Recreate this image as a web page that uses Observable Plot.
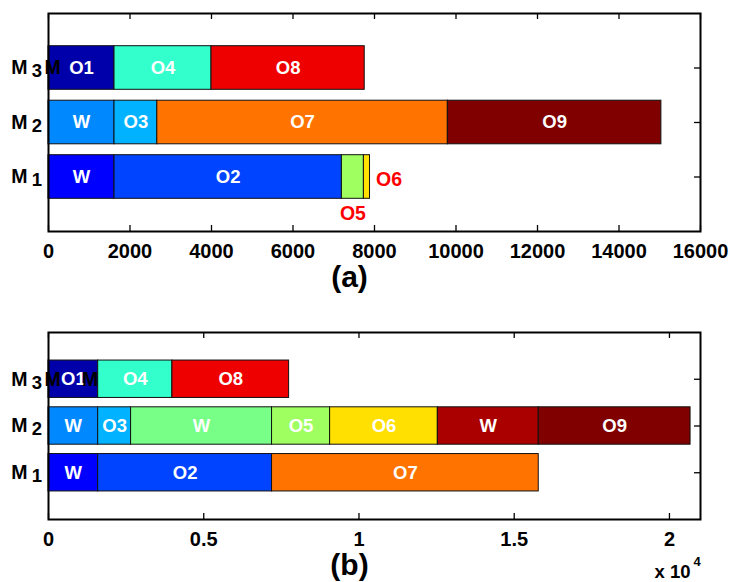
<!DOCTYPE html>
<html><head><meta charset="utf-8">
<script src="https://cdn.jsdelivr.net/npm/d3@7"></script>
<script src="https://cdn.jsdelivr.net/npm/@observablehq/plot@0.6"></script>
<style>
body{margin:0;background:#fff;}
#chart{width:730px;height:582px;background:#fff;}
#chart svg{display:block;}
</style></head><body><div id="chart"></div>
<script>
// ---------- data ----------
const machines = ["M3", "M2", "M1"];
const machineDigits = ["3", "2", "1"];

// Panel (a)
const aMachine = ["M1","M1","M1","M1","M2","M2","M2","M2","M3","M3","M3"];
const aOp      = ["W","O2","O5","O6","W","O3","O7","O9","O1","O4","O8"];
const aStart   = [0,1620,7200,7740,0,1620,2670,9800,0,1620,4000];
const aEnd     = [1620,7200,7740,7890,1620,2670,9800,15040,1620,4000,7760];
const aOutside = ["O5","O6"];             // labels drawn outside (red)
const aXTicks  = [0,2000,4000,6000,8000,10000,12000,14000,16000];
const aXTickLabels = ["0","2000","4000","6000","8000","10000","12000","14000","16000"];

// Panel (b)
const bMachine = ["M1","M1","M1","M2","M2","M2","M2","M2","M2","M2","M3","M3","M3"];
const bOp      = ["W","O2","O7","W","O3","W","O5","O6","W","O9","O1","O4","O8"];
const bStart   = [0,1600,7200,0,1600,2660,7200,9070,12540,15790,0,1600,3990];
const bEnd     = [1600,7200,15790,1600,2660,7200,9070,12540,15790,20680,1600,3990,7750];
const bXTicks  = [0,5000,10000,15000,20000];
const bXTickLabels = ["0","0.5","1","1.5","2"];

// ---------- styles ----------
const aFill = ["#0000FF","#0044FF","#A0FF60","#FFE000","#0088FF","#00B2FF","#FF7300","#800000","#0000AA","#33FFCC","#EE0000"];
const bFill = ["#0000FF","#0044FF","#FF7300","#0088FF","#00B2FF","#77FF88","#A0FF60","#FFE000","#AA0000","#800000","#0000AA","#33FFCC","#EE0000"];
const FONT = "'Liberation Sans', Arial, Helvetica, sans-serif";

function rowsOf(mach, op, start, end, fill) {
  return mach.map((m, i) => ({machine: m, op: op[i], start: start[i], end: end[i], fill: fill[i]}));
}

function panel({rows, xMax, xTicks, xTickLabels, height, marginTop, marginBottom, outside, extraStart, extraEnd, caption, captionDy, expo}) {
  const W = 730, marginLeft = 48, marginRight = 30;
  const innerW = W - marginLeft - marginRight;
  const innerH = height - marginTop - marginBottom;
  const inside = rows.filter(d => !outside.includes(d.op));
  const out = rows.filter(d => outside.includes(d.op));
  const marks = [
    // inward y ticks (right and left)
    Plot.tickY(machines, {y: d => d, insetLeft: innerW - 6, stroke: "black", strokeWidth: 1.3}),
    Plot.tickY(machines, {y: d => d, insetRight: innerW - 6, stroke: "black", strokeWidth: 1.3}),
    // bars
    Plot.barX(rows, {x1: "start", x2: "end", y: "machine", fill: "fill", stroke: "#111", strokeWidth: 1}),
    // inside labels
    Plot.text(inside, {x: d => (d.start + d.end) / 2, y: "machine", text: "op", fill: "white", fontSize: 18.5, fontWeight: "bold"}),
    // machine labels
    Plot.text(machines, {y: d => d, frameAnchor: "left", lineAnchor: "middle", text: () => "M", textAnchor: "end", dx: -21, fontSize: 19.5, fontWeight: "bold", fill: "black"}),
    Plot.text(machines, {y: d => d, frameAnchor: "left", lineAnchor: "middle", text: (d, i) => machineDigits[i], textAnchor: "end", dx: -6.5, dy: 3.5, fontSize: 18.5, fontWeight: "bold", fill: "black"}),
    // stray overlapping "M" glyphs
    Plot.text(extraStart, {x: "at", y: "machine", lineAnchor: "middle", text: () => "M", textAnchor: "start", dx: -4, fontSize: 19.5, fontWeight: "bold", fill: "black"}),
    Plot.text(extraEnd, {x: "at", y: "machine", lineAnchor: "middle", text: () => "M", textAnchor: "end", dx: 0, fontSize: 19.5, fontWeight: "bold", fill: "black"}),
    // frame
    Plot.frame({stroke: "black", strokeWidth: 2}),
    // inward x ticks (top and bottom)
    Plot.tickX(xTicks, {x: d => d, insetBottom: innerH - 6, stroke: "black", strokeWidth: 1.3}),
    Plot.tickX(xTicks, {x: d => d, insetTop: innerH - 6, stroke: "black", strokeWidth: 1.3}),
    Plot.axisX({ticks: xTicks, tickFormat: d => xTickLabels[xTicks.indexOf(d)], tickSize: 0, tickPadding: 12, fontSize: 20, fontWeight: "bold", fill: "black"}),
    // caption
    Plot.text([caption], {frameAnchor: "bottom", lineAnchor: "middle", text: d => d, dx: -25, dy: captionDy, fontSize: 30, fontWeight: "bold", fill: "black"})
  ];
  // outside red labels
  out.forEach(d => {
    if (d.op === "O6") {
      marks.push(Plot.text([d], {x: "end", y: "machine", text: "op", textAnchor: "start", dx: 6, dy: 3, fill: "#FF0000", fontSize: 19.5, fontWeight: "bold"}));
    } else {
      marks.push(Plot.text([d], {x: e => (e.start + e.end) / 2, y: "machine", text: "op", dy: 36.5, fill: "#FF0000", fontSize: 19.5, fontWeight: "bold"}));
    }
  });
  if (expo) {
    marks.push(Plot.text(["x 10"], {frameAnchor: "bottom-right", lineAnchor: "middle", text: d => d, textAnchor: "end", dx: -10, dy: 52.5, fontSize: 18.5, fontWeight: "bold", fill: "black"}));
    marks.push(Plot.text(["4"], {frameAnchor: "bottom-right", lineAnchor: "middle", text: d => d, textAnchor: "start", dx: -7, dy: 42, fontSize: 13, fontWeight: "bold", fill: "black"}));
  }
  return Plot.plot({
    width: W, height, marginLeft, marginRight, marginTop, marginBottom,
    style: {fontFamily: FONT, fontWeight: "bold", background: "white", color: "black", overflow: "visible"},
    x: {domain: [0, xMax], axis: null},
    y: {type: "band", domain: machines, paddingInner: 0.2, paddingOuter: 0.6, round: false, axis: null},
    marks
  });
}

const aRows = rowsOf(aMachine, aOp, aStart, aEnd, aFill);
const bRows = rowsOf(bMachine, bOp, bStart, bEnd, bFill);

const chart = document.getElementById("chart");
chart.append(panel({
  rows: aRows, xMax: 16000, xTicks: aXTicks, xTickLabels: aXTickLabels,
  height: 291, marginTop: 13, marginBottom: 60, outside: aOutside,
  extraStart: [{machine: "M3", at: 0}], extraEnd: [],
  caption: "(a)", captionDy: 46, expo: false
}));
chart.append(panel({
  rows: bRows, xMax: 21000, xTicks: bXTicks, xTickLabels: bXTickLabels,
  height: 291, marginTop: 41, marginBottom: 63, outside: [],
  extraStart: [{machine: "M3", at: 0}], extraEnd: [{machine: "M3", at: 1600}],
  caption: "(b)", captionDy: 46, expo: true
}));
</script>
</body></html>
